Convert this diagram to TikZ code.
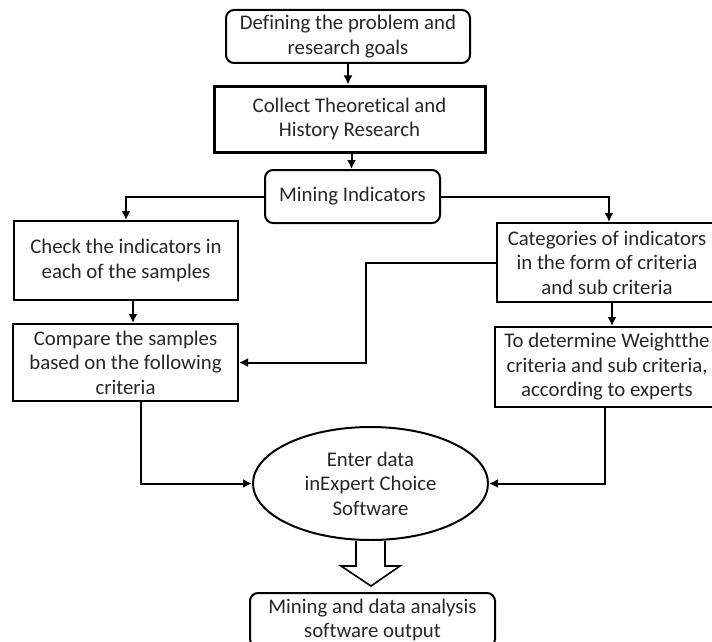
\documentclass[tikz,border=0pt]{standalone}
\usepackage{fontspec}
\setmainfont{Carlito}[Ligatures=NoCommon]
\usetikzlibrary{calc,shapes.geometric,arrows.meta}
\begin{document}
\begin{tikzpicture}[x=1pt,y=-1pt,
  every node/.style={font=\fontsize{20.8}{24.5}\selectfont, text=black!85, align=center, inner sep=0pt},
  box/.style={draw, line width=2pt, minimum width=#1},
  box/.default=224,
  roundbox/.style={box=#1, rounded corners=8pt},
  thickbox/.style={box=#1, line width=3pt},
  oval/.style={ellipse, draw, line width=2pt, minimum width=235, minimum height=113},
  arr/.style={draw, line width=2pt, -{Latex[length=9pt,width=9pt]}}
]
\useasboundingbox (0,0) rectangle (712,642);
\clip (0,0) rectangle (712,642);

% boxes
\node[roundbox=244, minimum height=53] (def) at (348,36.5) {Defining the problem and\\research goals};
\node[thickbox=271, minimum height=66] (col) at (349.5,119) {Collect Theoretical and\\History Research};
\node[roundbox=175, minimum height=53] (mine) at (352.5,196.5) {Mining Indicators};
\node[box=224, minimum height=79] (chk) at (126,260.5) {Check the indicators in\\each of the samples};
\node[box=225, minimum height=77] (cmp) at (125.5,362.5) {Compare the samples\\based on the following\\criteria};
\node[box=220, minimum height=79] (cat) at (607,262.5) {Categories of indicators\\in the form of criteria\\and sub criteria};
\node[box=224, minimum height=80] (wgt) at (607,367) {To determine Weightthe\\criteria and sub criteria,\\according to experts};
\node[oval] (ent) at (370.5,483.5) {Enter data\\inExpert Choice\\Software};
\node[roundbox=245, minimum height=54] (out) at (372.5,620) {Mining and data analysis\\software output};

% connectors
\path[arr] (def.south) -- (def.south |- col.north);
\path[arr] ([xshift=2pt]col.south) -- ([xshift=2pt]col.south |- mine.north);
\path[arr] (mine.west) -| (chk.north);
\path[arr] (mine.east) -| ([xshift=2pt]cat.north);
\path[arr] ([xshift=7pt]chk.south) -- ([xshift=7pt]chk.south |- cmp.north);
\path[arr] ([xshift=5pt]cat.south) -- ([xshift=5pt]cat.south |- wgt.north);
\path[arr] (cat.west) -- ++(-130,0) |- (cmp.east);
\path[arr] ([xshift=15.5pt]cmp.south) |- (ent.west);
\path[arr] ([xshift=-2pt]wgt.south) |- (ent.east);

% block arrow to the output
\draw[line width=1.6pt, fill=white, line join=miter]
  ($(ent.south)+(-14.5,0)$) -- ++(0,25) -- ++(-15,0) -- ($(out.north)+(-1.5,-6)$)
  -- ($(ent.south)+(29.5,25)$) -- ++(-15,0) -- ($(ent.south)+(14.5,0)$);
\end{tikzpicture}
\end{document}
